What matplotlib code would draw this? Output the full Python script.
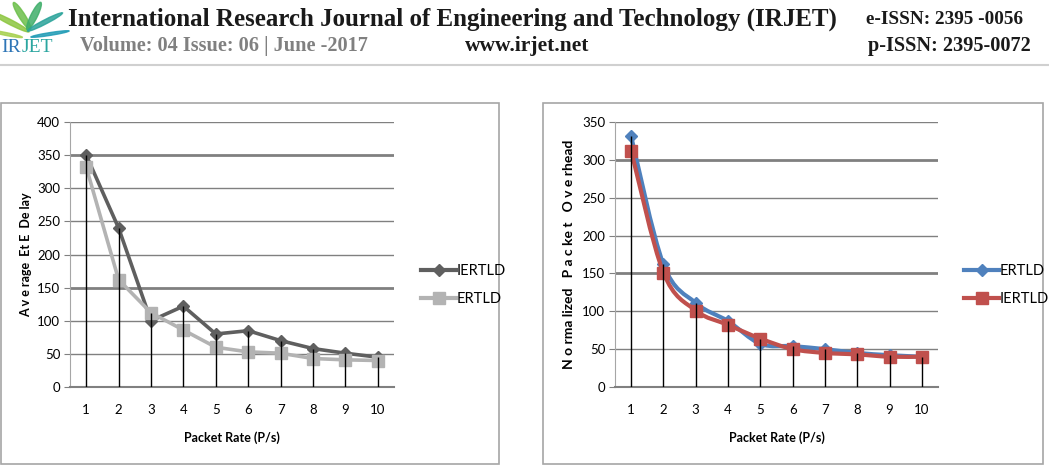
import numpy as np
import matplotlib.pyplot as plt
from matplotlib.path import Path
from matplotlib.patches import PathPatch, Rectangle, Ellipse
from matplotlib.lines import Line2D

# data
rates = [1, 2, 3, 4, 5, 6, 7, 8, 9, 10]

# left chart: Average EtE Delay
delay_iertld = [350, 240, 100, 122, 80, 85, 70, 58, 51, 45]
delay_ertld = [332, 162, 112, 86, 60, 53, 51, 43, 41, 40]

# right chart: Normalized Packet Overhead
nro_ertld = [331, 162, 111, 87, 57, 54, 50, 45, 42, 40]
nro_iertld = [312, 151, 101, 82, 64, 50, 45, 43, 40, 40]

W, H = 1049, 466
fig = plt.figure(figsize=(W / 100, H / 100), dpi=100)
plt.rcParams['font.family'] = ['Lato', 'DejaVu Sans']


def fx(px):
    return px / W


def fy(py):
    return 1 - py / H


def smooth_path(xs, ys):
    # excel-like smoothed line (bezier through the data points)
    pts = np.column_stack([xs, ys]).astype(float)
    n = len(pts)
    verts = [pts[0]]
    codes = [Path.MOVETO]
    for i in range(n - 1):
        p0 = pts[i - 1] if i > 0 else pts[i]
        p1 = pts[i]
        p2 = pts[i + 1]
        p3 = pts[i + 2] if i + 2 < n else pts[i + 1]
        c1 = p1 + (p2 - p0) / 6
        c2 = p2 - (p3 - p1) / 6
        verts += [c1, c2, p2]
        codes += [Path.CURVE4] * 3
    return Path(verts, codes)


# ---------------- header ----------------
serif = 'Liberation Serif'
fig.text(fx(68), fy(19), 'International Research Journal of Engineering and Technology (IRJET)',
         family=serif, weight='bold', fontsize=18, color='#1a1a1a', va='center')
fig.text(fx(866), fy(19), 'e-ISSN: 2395 -0056', family=serif, weight='bold',
         fontsize=13.8, color='#1a1a1a', va='center')
fig.text(fx(80), fy(46), 'Volume: 04 Issue: 06 | June -2017', family=serif,
         weight='bold', fontsize=14.6, color='#808080', va='center')
fig.text(fx(465), fy(46), 'www.irjet.net', family=serif, weight='bold',
         fontsize=15.5, color='#1a1a1a', va='center')
fig.text(fx(868), fy(46), 'p-ISSN: 2395-0072', family=serif, weight='bold',
         fontsize=14.6, color='#1a1a1a', va='center')
fig.text(fx(1), fy(48), 'IR', family=serif, fontsize=14, color='#2e75b6', va='center')
fig.text(fx(22), fy(48), 'JET', family=serif, fontsize=14, color='#2ba6a0', va='center')
# logo leaves
for cx, cy, w, h, ang, col in [(10, 22, 8, 26, 40, '#8cc63f'), (22, 16, 7, 28, 15, '#6cbf4a'),
                               (34, 16, 7, 28, -12, '#3fae6a'), (45, 22, 7, 24, -40, '#2aa39a'),
                               (50, 34, 6, 18, -70, '#1f9bb5'), (6, 34, 6, 16, 65, '#a6d04f')]:
    fig.patches.append(Ellipse((fx(cx), fy(cy)), w / W, h / H, angle=ang,
                               transform=fig.transFigure, color=col, alpha=0.85))
fig.add_artist(Line2D([0, 1], [fy(65), fy(65)], color='#d0d0d0', lw=1.5,
                      transform=fig.transFigure))

# chart frames
for x0, x1 in [(1, 499), (543, 1043)]:
    fig.patches.append(Rectangle((fx(x0), fy(464)), (x1 - x0) / W, (464 - 103) / H,
                                 transform=fig.transFigure, fill=False,
                                 edgecolor='#a6a6a6', lw=1.2))


def style_axes(ax, ymax, thick):
    ax.set_xlim(0.5, 10.5)
    ax.set_ylim(0, ymax)
    ax.set_yticks(np.arange(0, ymax + 1, 50))
    ax.set_xticks(rates)
    for v in np.arange(50, ymax + 1, 50):
        ax.axhline(v, color='#808080', lw=2.0 if v in thick else 1.0, zorder=0)
    for s in ['top', 'right']:
        ax.spines[s].set_visible(False)
    ax.spines['left'].set_color('#a6a6a6')
    ax.spines['bottom'].set_color('#808080')
    ax.spines['bottom'].set_linewidth(1.5)
    ax.tick_params(axis='y', length=4, color='#808080', labelsize=9.5, pad=3)
    ax.tick_params(axis='x', length=0, labelsize=9.5, pad=12)
    ax.set_xlabel('Packet Rate (P/s)', fontsize=9, weight='bold', labelpad=11)


# ---------------- left chart ----------------
ax1 = fig.add_axes([fx(70), fy(387), (394 - 70) / W, (387 - 122) / H])
style_axes(ax1, 400, [150, 350])
ax1.plot(rates, delay_iertld, color='#5f5f5f', lw=2.6, marker='D', ms=6, zorder=3)
ax1.plot(rates, delay_ertld, color='#b3b3b3', lw=2.6, marker='s', ms=8, zorder=4)
ax1.vlines(rates, 0, np.maximum(delay_iertld, delay_ertld), color='black', lw=1, zorder=5)
ax1.set_ylabel('A v e rage  Et E  De lay', fontsize=9, weight='bold', labelpad=4)
h1 = [Line2D([], [], color='#5f5f5f', lw=3, marker='D', ms=6),
      Line2D([], [], color='#b3b3b3', lw=3, marker='s', ms=8)]
fig.legend(h1, ['IERTLD', 'ERTLD'], loc='center left', bbox_to_anchor=(fx(408), fy(285)),
           frameon=False, fontsize=10.5, handlelength=2.4, handletextpad=0.05, labelspacing=1.0)

# ---------------- right chart ----------------
ax2 = fig.add_axes([fx(615), fy(387), (938 - 615) / W, (387 - 122) / H])
style_axes(ax2, 350, [150, 300])
ax2.add_patch(PathPatch(smooth_path(rates, nro_ertld), fill=False, edgecolor='#4f81bd', lw=3, zorder=3))
ax2.plot(rates, nro_ertld, ls='none', color='#4f81bd', marker='D', ms=6, zorder=3)
ax2.add_patch(PathPatch(smooth_path(rates, nro_iertld), fill=False, edgecolor='#c0504d', lw=3, zorder=4))
ax2.plot(rates, nro_iertld, ls='none', color='#c0504d', marker='s', ms=9, zorder=4)
ax2.vlines(rates, 0, np.maximum(nro_ertld, nro_iertld), color='black', lw=1, zorder=5)
ax2.set_ylabel('N o rma lized   P a c ke t   O v e rhead', fontsize=10, weight='bold', labelpad=5)
h2 = [Line2D([], [], color='#4f81bd', lw=3, marker='D', ms=6),
      Line2D([], [], color='#c0504d', lw=3, marker='s', ms=9)]
fig.legend(h2, ['ERTLD', 'IERTLD'], loc='center left', bbox_to_anchor=(fx(951), fy(285)),
           frameon=False, fontsize=10.5, handlelength=2.4, handletextpad=0.05, labelspacing=1.0)

fig.savefig('out.png', dpi=100)
